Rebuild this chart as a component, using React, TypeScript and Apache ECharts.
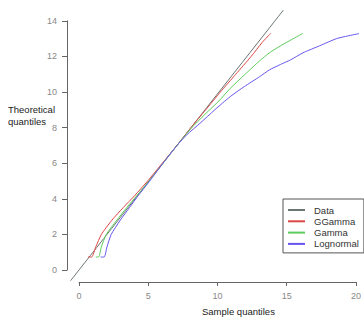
import React, { useEffect, useRef } from "react";
import * as echarts from "echarts";

const xTicks = [0, 5, 10, 15, 20];
const yTicks = [0, 2, 4, 6, 8, 10, 12, 14];

const dataLine: number[][] = [[-0.6, -0.6], [14.6, 14.6]];

const ggamma: number[][] = [
  [0.64, 0.73], [0.9, 0.73], [1.2, 1.3], [1.6, 2.0], [2.35, 2.8], [3.15, 3.5], [4.0, 4.2],
  [4.9, 5.0], [5.95, 6.0], [7.0, 7.0], [8.0, 8.0], [9.05, 9.0], [10.1, 10.0], [11.2, 11.0],
  [12.3, 12.0], [13.1, 12.8], [13.7, 13.3],
];

const gamma: number[][] = [
  [1.2, 0.73], [1.4, 0.73], [1.6, 1.3], [1.95, 2.0], [2.7, 2.8], [3.4, 3.5], [4.15, 4.2],
  [5.0, 5.0], [6.0, 6.0], [7.0, 7.0], [8.0, 7.95], [9.0, 8.75], [10.0, 9.5], [10.8, 10.2],
  [11.8, 10.95], [12.9, 11.75], [13.6, 12.2], [14.4, 12.6], [15.2, 12.95], [16.0, 13.3],
];

const lognormal: number[][] = [
  [1.55, 0.73], [1.8, 0.73], [2.0, 1.3], [2.3, 2.0], [2.95, 2.8], [3.6, 3.5], [4.25, 4.2],
  [5.05, 5.0], [6.0, 6.0], [7.0, 7.0], [7.7, 7.6], [8.64, 8.24], [9.7, 9.0], [10.8, 9.74],
  [11.8, 10.3], [12.9, 10.86], [13.6, 11.24], [14.4, 11.55], [15.1, 11.8], [16.0, 12.2],
  [17.2, 12.6], [18.4, 13.0], [19.2, 13.15], [20.0, 13.28],
];

const seriesNames = ["Data", "GGamma", "Gamma", "Lognormal"];
const seriesColors = ["#6a7674", "#dd4646", "#5ccc5c", "#6656ee"];

const FONT = "Liberation Sans, Arial, sans-serif";

export default function App() {
  const ref = useRef<HTMLDivElement>(null);
  useEffect(() => {
    if (!ref.current) return;
    const chart = echarts.init(ref.current, null, { renderer: "svg" });
    // scale: x 14 px/unit with 0 at px 79; y 17.8 px/unit with 0 at px 270
    const xMin = -0.8, xMax = 20.2;
    const yMin = -0.8, yMax = 14.8;
    const gLeft = 79 + 14 * xMin;
    const gRight = 364 - (79 + 14 * xMax);
    const gTop = 270 - 17.8 * yMax;
    const gBottom = 320 - (270 - 17.8 * yMin);
    const tickLabel = { color: "#888888", fontSize: 9, fontFamily: FONT };
    const allData = [dataLine, ggamma, gamma, lognormal];
    chart.setOption({
      animation: false,
      backgroundColor: "#ffffff",
      grid: [
        { left: gLeft, right: gRight, top: gTop, bottom: gBottom },
        { left: 79, right: 5, top: 200, bottom: 38 },
        { left: 67, top: 270 - 17.8 * 14, bottom: 50, width: 100 },
      ],
      xAxis: [
        { type: "value", gridIndex: 0, min: xMin, max: xMax, show: false },
        {
          type: "value", gridIndex: 1, min: 0, max: 20, interval: 5, position: "bottom",
          axisLine: { show: true, lineStyle: { color: "#666", width: 1 } },
          axisTick: { show: true, length: 4, lineStyle: { color: "#666" } },
          axisLabel: { ...tickLabel, margin: 9 },
          splitLine: { show: false },
        },
        { type: "value", gridIndex: 2, min: 0, max: 1, show: false },
      ],
      yAxis: [
        { type: "value", gridIndex: 0, min: yMin, max: yMax, show: false },
        { type: "value", gridIndex: 1, min: 0, max: 1, show: false },
        {
          type: "value", gridIndex: 2, min: 0, max: 14, interval: 2, position: "left",
          axisLine: { show: true, lineStyle: { color: "#666", width: 1 } },
          axisTick: { show: true, length: 5, lineStyle: { color: "#666" } },
          axisLabel: { ...tickLabel, margin: 10 },
          splitLine: { show: false },
        },
      ],
      legend: {
        orient: "vertical",
        left: 283,
        top: 199,
        padding: [6, 5, 4, 5],
        itemGap: 1.3,
        itemWidth: 17,
        itemHeight: 2,
        icon: "rect",
        borderColor: "#555",
        borderWidth: 1,
        borderRadius: 0,
        textStyle: { color: "#333", fontSize: 9.5, fontFamily: FONT, lineHeight: 10, padding: [0, 0, 0, 4] },
        data: seriesNames,
      },
      series: seriesNames.map((name, i) => ({
        type: "line",
        name,
        xAxisIndex: 0,
        yAxisIndex: 0,
        data: allData[i],
        showSymbol: false,
        symbol: "none",
        smooth: 0.2,
        lineStyle: { color: seriesColors[i], width: 1 },
        itemStyle: { color: seriesColors[i] },
        z: 2 + i,
      })),
      graphic: [
        {
          type: "text", left: 8, top: 104,
          style: { text: "Theoretical\nquantiles", fill: "#222", font: `9.5px ${FONT}`, lineHeight: 11.5 },
        },
        {
          type: "text", left: 202, top: 306,
          style: { text: "Sample quantiles", fill: "#222", font: `9.5px ${FONT}` },
        },
      ],
    });
    return () => chart.dispose();
  }, []);
  return <div ref={ref} style={{ position: "fixed", left: 0, top: 0, width: 364, height: 320 }} />;
}
